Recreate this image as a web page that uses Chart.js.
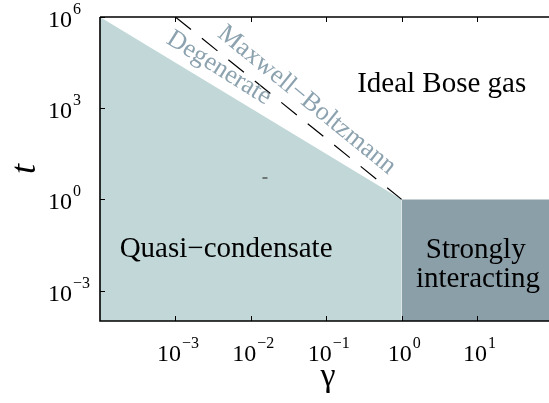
<!DOCTYPE html>
<html>
<head>
<meta charset="utf-8">
<script src="https://cdn.jsdelivr.net/npm/chart.js@4.4.0/dist/chart.umd.min.js"></script>
<style>
	body { margin: 0; background: #fff; }
	#mycanvas { display: block; }
</style>
</head>
<body>
<canvas id="mycanvas" width="549" height="403"></canvas>
<script>
// axis ticks (value + exponent shown as 10^exp)
var gammaTicks = [1e-3, 1e-2, 1e-1, 1, 10];
var gammaExps = ["\u22123", "\u22122", "\u22121", "0", "1"];
var tTicks = [1e-3, 1, 1e3, 1e6];
var tExps = ["\u22123", "0", "3", "6"];

// quasi-condensate boundary t = gamma^-3/2, down to gamma = 1
var condGamma = [1e-4, 1, 1];
var condT = [1e6, 1, 1e-4];

// strongly interacting block, gamma > 1, t < 1
var strongGamma = [1, 100];
var strongT = [1, 1];

// degenerate / Maxwell-Boltzmann crossover t = gamma^-2
var mbGamma = [1e-3, 1];
var mbT = [1e6, 1];

// stray mark in the figure
var markGamma = [0.0154];
var markT = [5.06];

function pts(xs, ys) {
	var out = [];
	for (var i in xs) {
		out.push({x: xs[i], y: ys[i]});
	}
	return out;
}

var serif = '"Liberation Serif", "Times New Roman", serif';

function powerLabel(c, exp, x, y, align) {
	c.font = "24px " + serif;
	var w10 = c.measureText("10").width;
	c.font = "16px " + serif;
	var we = c.measureText(exp).width;
	var left = align == "center" ? x - (w10 + we) / 2 + 2 : x;
	c.textAlign = "left";
	c.textBaseline = "alphabetic";
	c.font = "24px " + serif;
	c.fillText("10", left, y);
	c.font = "16px " + serif;
	c.fillText(exp, left + w10 + 1, y - 13);
}

var drawAxes = {
	id: "drawAxes",
	afterDraw: function(chart) {
		var c = chart.ctx;
		var a = chart.chartArea;
		var xs = chart.scales.x;
		var ys = chart.scales.y;
		c.save();
		c.strokeStyle = "#000";
		c.fillStyle = "#000";
		c.lineWidth = 1.6;
		c.beginPath();
		c.moveTo(a.left, a.top);
		c.lineTo(a.right, a.top);
		c.moveTo(a.left, a.top);
		c.lineTo(a.left, a.bottom);
		c.lineTo(a.right, a.bottom);
		c.stroke();

		c.lineWidth = 1;
		c.beginPath();
		for (var i in gammaTicks) {
			var px = Math.round(xs.getPixelForValue(gammaTicks[i])) + 0.5;
			c.moveTo(px, a.bottom);
			c.lineTo(px, a.bottom - 5);
			c.moveTo(px, a.top);
			c.lineTo(px, a.top + 5);
		}
		for (var j in tTicks) {
			var py = Math.round(ys.getPixelForValue(tTicks[j])) + 0.5;
			c.moveTo(a.left, py);
			c.lineTo(a.left + 5, py);
		}
		c.stroke();

		for (var i in gammaTicks) {
			powerLabel(c, gammaExps[i], xs.getPixelForValue(gammaTicks[i]), a.bottom + 40, "center");
		}
		for (var j in tTicks) {
			powerLabel(c, tExps[j], 48, ys.getPixelForValue(tTicks[j]) + 10, "left");
		}

		// axis titles
		c.textAlign = "center";
		c.textBaseline = "alphabetic";
		c.font = "34px " + serif;
		c.fillText("\u03b3", 328, 386);
		c.save();
		c.translate(35, (a.top + a.bottom) / 2);
		c.rotate(-Math.PI / 2);
		c.font = "italic 36px " + serif;
		c.fillText("t", 0, 0);
		c.restore();

		// region labels
		c.font = "29px " + serif;
		c.fillStyle = "#000";
		c.fillText("Ideal Bose gas", xs.getPixelForValue(3.4), ys.getPixelForValue(3400));
		c.fillText("Quasi\u2212condensate", xs.getPixelForValue(4.7e-3), ys.getPixelForValue(0.0127));
		c.fillText("Strongly", xs.getPixelForValue(9.6), ys.getPixelForValue(0.0117));
		c.fillText("interacting", xs.getPixelForValue(10.3), ys.getPixelForValue(1.3e-3));

		c.fillStyle = "rgb(140,162,175)";
		c.font = "26px " + serif;
		c.textBaseline = "middle";
		c.save();
		c.translate(xs.getPixelForValue(0.0553), ys.getPixelForValue(1860));
		c.rotate(39 * Math.PI / 180);
		c.fillText("Maxwell\u2212Boltzmann", 0, 0);
		c.restore();
		c.save();
		c.translate(xs.getPixelForValue(3.78e-3), ys.getPixelForValue(2.1e4));
		c.rotate(32 * Math.PI / 180);
		c.fillText("Degenerate", 0, 0);
		c.restore();
		c.restore();
	}
};

var chartdata = {
	datasets: [
		{
			label: "mb",
			data: pts(mbGamma, mbT),
			showLine: true,
			borderColor: "#000",
			borderWidth: 1.2,
			borderDash: [20, 14],
			pointRadius: 0,
			fill: false,
			order: 0
		},
		{
			label: "mark",
			data: pts(markGamma, markT),
			pointStyle: "line",
			pointRadius: 2.5,
			borderColor: "#555",
			borderWidth: 1.5,
			order: 0
		},
		{
			label: "condensate",
			data: pts(condGamma, condT),
			showLine: true,
			borderWidth: 0,
			borderColor: "rgb(194,216,216)",
			backgroundColor: "rgb(194,216,216)",
			pointRadius: 0,
			fill: "start",
			order: 2
		},
		{
			label: "strong",
			data: pts(strongGamma, strongT),
			showLine: true,
			borderWidth: 0,
			borderColor: "rgb(139,159,169)",
			backgroundColor: "rgb(139,159,169)",
			pointRadius: 0,
			fill: "start",
			order: 3
		}
	]
};

var ctx = document.getElementById("mycanvas");

var chart = new Chart(ctx, {
	type: "scatter",
	data: chartdata,
	options: {
		responsive: false,
		animation: false,
		layout: { autoPadding: false, padding: { top: 17, left: 0, right: 0, bottom: 0 } },
		plugins: { legend: { display: false }, tooltip: { enabled: false } },
		scales: {
			x: {
				type: "logarithmic",
				min: 1e-4,
				max: 90,
				ticks: { display: false },
				grid: { display: false },
				border: { display: false },
				afterFit: function(s) { s.height = 82; }
			},
			y: {
				type: "logarithmic",
				min: 1e-4,
				max: 1e6,
				ticks: { display: false },
				grid: { display: false },
				border: { display: false },
				afterFit: function(s) { s.width = 100; }
			}
		}
	},
	plugins: [drawAxes]
});
</script>
</body>
</html>
